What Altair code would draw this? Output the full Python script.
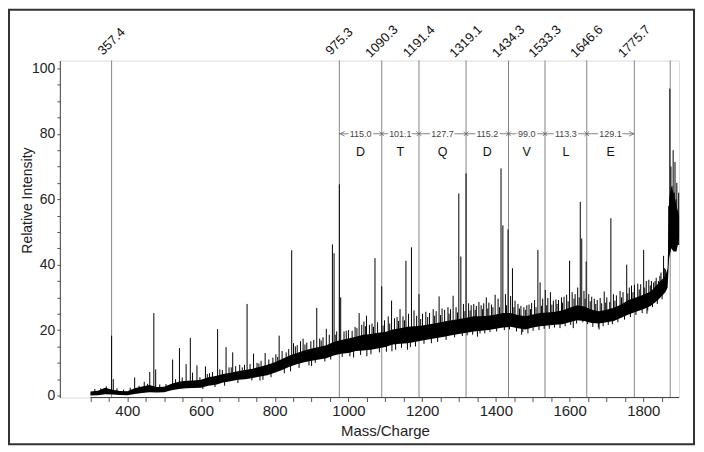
import altair as alt
import pandas as pd

# ---------------- data ----------------
band_mz = [300, 320, 340, 360, 380, 400, 420, 440, 460, 480,
           500, 520, 540, 560, 580, 600, 620, 640, 660, 680,
           700, 720, 740, 760, 780, 800, 820, 840, 860, 880,
           900, 920, 940, 960, 980, 1000, 1020, 1040, 1060, 1080,
           1100, 1120, 1140, 1160, 1180, 1200, 1220, 1240, 1260, 1280,
           1300, 1320, 1340, 1360, 1380, 1400, 1420, 1440, 1460, 1480,
           1500, 1520, 1540, 1560, 1580, 1600, 1620, 1640, 1660, 1680,
           1700, 1720, 1740, 1760, 1780, 1800, 1820, 1840, 1860,
           1866, 1870, 1876, 1882, 1890, 1897]
band_lo = [0.0, 0.1, 0.4, 0.3, 0.2, 0.1, 0.5, 0.8, 1.0, 0.9,
           1.0, 1.6, 2.0, 2.2, 2.3, 2.4, 3.0, 3.3, 4.0, 4.4,
           4.8, 5.0, 5.4, 5.8, 6.2, 7.0, 7.8, 8.8, 9.6, 10.2,
           10.6, 11.0, 11.4, 12.2, 12.8, 13.0, 13.6, 13.8, 14.0, 14.4,
           14.8, 15.6, 15.8, 16.0, 16.4, 16.8, 17.2, 17.6, 18.0, 18.4,
           18.8, 19.2, 19.6, 19.8, 20.0, 20.4, 20.8, 21.0, 20.6, 20.2,
           20.8, 21.2, 21.4, 21.6, 21.8, 22.4, 23.0, 22.8, 22.2, 22.0,
           22.4, 22.8, 23.8, 24.8, 25.6, 26.4, 27.4, 29.2, 31.6,
           33.0, 42.0, 45.0, 44.0, 44.0, 48.0]
band_hi = [1.2, 1.5, 2.4, 1.8, 1.4, 1.3, 2.2, 2.8, 3.2, 2.6,
           2.7, 3.6, 4.2, 4.5, 4.6, 4.8, 5.6, 6.0, 6.6, 7.0,
           7.4, 7.8, 8.2, 8.8, 9.4, 10.2, 11.2, 12.2, 13.0, 13.8,
           14.4, 14.8, 15.4, 16.4, 17.0, 17.4, 18.0, 18.6, 18.8, 19.2,
           19.4, 20.2, 20.6, 21.0, 21.2, 21.4, 21.8, 22.2, 22.6, 23.0,
           23.4, 23.8, 24.2, 24.2, 24.4, 24.8, 25.2, 25.2, 24.6, 24.2,
           24.8, 25.2, 25.4, 25.6, 26.0, 26.8, 27.6, 27.2, 26.2, 25.8,
           26.2, 26.8, 27.8, 29.2, 30.0, 30.8, 31.8, 34.2, 36.6,
           39.0, 60.0, 64.0, 62.0, 58.0, 55.0]

spike_mz = [312, 328, 343, 357.4, 362, 372, 390, 408, 420, 432,
            446, 455, 461, 472, 477, 488, 505, 512, 523, 531,
            541.5, 549, 559.6, 571, 577, 589, 597, 612, 623, 631,
            645, 651, 658, 668, 676, 686, 694, 705, 712, 725,
            733, 742.6, 752, 763, 774, 784, 795, 803, 812, 820,
            831, 838, 846, 851, 861, 870, 877, 887, 898, 906,
            914, 922, 931, 940, 948, 956.5, 961, 968, 975.3, 979,
            988, 1000, 1010, 1018, 1029, 1036, 1042, 1049, 1057, 1064,
            1072, 1079, 1090.3, 1098, 1108, 1117, 1125, 1132, 1140, 1148,
            1156, 1163, 1171, 1178, 1185, 1191.4, 1201, 1210, 1220, 1230,
            1238, 1246, 1254, 1261, 1270, 1277, 1284, 1292, 1299.5, 1305,
            1312, 1319.1, 1326, 1333, 1340, 1347, 1354, 1360, 1367, 1374,
            1381, 1388, 1398, 1406, 1414, 1419, 1426, 1433, 1440, 1445,
            1452, 1460, 1468, 1476, 1484, 1490, 1497, 1505, 1514, 1520,
            1527, 1534, 1541, 1548, 1556, 1563, 1570, 1578, 1585, 1592,
            1600, 1607, 1615, 1622, 1629, 1633, 1639, 1645, 1652, 1660,
            1667, 1675, 1683, 1694, 1701, 1712, 1719, 1727, 1737, 1745,
            1755, 1762, 1768, 1776, 1785, 1793, 1801, 1808, 1815, 1822,
            1828, 1835, 1841, 1848, 1855, 1860, 1869, 1872, 1875, 1878,
            1881, 1884, 1886, 1889, 1891, 1894, 1896, 1118, 1160, 1350,
            1470, 1610, 1680, 1810, 1050, 900, 760]
spike_top = [2.0, 2.2, 2.8, 18.3, 5.0, 2.2, 1.8, 2.4, 5.5, 3.0,
             4.2, 3.6, 7.2, 25.2, 8.0, 3.4, 3.5, 3.2, 11.0, 5.0,
             14.5, 5.5, 9.6, 17.6, 7.0, 9.2, 5.6, 8.9, 6.8, 7.2,
             20.3, 8.0, 7.8, 14.8, 8.6, 13.2, 9.0, 9.4, 8.6, 28.0,
             9.6, 12.8, 10.0, 10.6, 13.0, 11.0, 11.6, 12.6, 18.3, 13.6,
             13.2, 14.2, 44.4, 16.0, 15.4, 16.6, 17.4, 16.2, 16.6, 17.0,
             26.8, 17.4, 17.8, 20.4, 18.6, 46.2, 43.5, 19.6, 64.5, 30.0,
             19.6, 20.0, 19.8, 21.0, 25.2, 21.6, 22.6, 24.4, 21.6, 22.0,
             42.0, 22.4, 33.4, 23.0, 24.2, 29.0, 23.6, 24.0, 26.4, 24.2,
             41.2, 25.0, 45.3, 26.0, 24.4, 31.0, 25.0, 25.6, 25.2, 26.4,
             25.8, 30.3, 26.6, 26.2, 27.0, 26.4, 30.5, 27.0, 61.8, 42.5,
             28.0, 67.9, 28.2, 27.6, 28.0, 27.4, 28.6, 27.6, 28.2, 30.0,
             28.4, 27.8, 30.8, 29.6, 69.4, 52.0, 31.0, 50.8, 30.4, 38.9,
             29.0, 28.0, 27.4, 27.0, 27.6, 27.8, 28.3, 29.2, 44.5, 34.6,
             29.6, 32.3, 29.8, 31.6, 29.0, 29.4, 29.2, 30.0, 30.2, 30.8,
             41.2, 31.6, 31.0, 33.0, 59.2, 48.0, 32.0, 41.0, 31.0, 30.2,
             29.6, 29.2, 29.8, 31.8, 30.0, 54.2, 31.0, 30.6, 32.0, 31.6,
             40.0, 33.0, 33.6, 33.8, 34.2, 34.0, 44.5, 35.0, 35.4, 35.0,
             34.5, 36.0, 35.0, 37.6, 42.7, 38.6, 58.0, 93.8, 70.0, 64.0,
             75.0, 62.0, 71.4, 60.0, 65.0, 52.0, 62.0, 13.5, 14.0, 18.0,
             18.6, 20.6, 20.2, 25.0, 12.0, 9.0, 4.6]
spike_base = [0.6, 0.8, 1.0, 1.0, 1.0, 0.8, 0.6, 0.8, 1.2, 1.4,
              1.8, 1.8, 2.0, 2.0, 2.0, 1.8, 1.8, 2.0, 2.6, 3.0,
              3.0, 3.0, 3.2, 3.4, 3.4, 3.4, 3.6, 4.0, 4.2, 4.6,
              4.6, 5.0, 5.2, 5.4, 5.6, 5.8, 6.0, 6.2, 6.2, 6.4,
              6.8, 7.0, 7.0, 7.4, 7.8, 8.2, 8.6, 9.0, 9.6, 9.8,
              10.4, 10.6, 10.8, 11.0, 11.4, 12.0, 12.0, 12.4, 12.6, 13.0,
              13.2, 13.4, 13.6, 14.0, 14.4, 14.6, 14.8, 15.0, 15.0, 15.0,
              15.2, 15.2, 15.6, 15.8, 16.0, 16.2, 16.2, 16.4, 16.4, 16.6,
              16.8, 16.8, 17.0, 17.0, 17.2, 17.6, 18.0, 18.2, 18.2, 18.4,
              18.4, 18.6, 18.8, 18.8, 19.0, 19.0, 19.2, 19.4, 19.6, 19.8,
              20.0, 20.0, 20.2, 20.4, 20.6, 20.8, 21.0, 21.0, 21.2, 21.2,
              21.4, 21.6, 21.8, 22.0, 22.0, 22.0, 22.2, 22.2, 22.2, 22.2,
              22.4, 22.4, 22.6, 22.8, 23.0, 23.0, 23.0, 23.0, 23.0, 23.0,
              22.8, 22.6, 22.4, 22.2, 22.2, 22.4, 22.6, 22.8, 23.0, 23.0,
              23.2, 23.4, 23.4, 23.6, 23.6, 23.8, 23.8, 24.0, 24.2, 24.4,
              24.6, 24.8, 25.0, 25.0, 25.0, 25.0, 25.0, 24.8, 24.6, 24.2,
              24.0, 24.0, 24.0, 24.2, 24.4, 24.6, 24.8, 25.0, 25.6, 26.0,
              26.6, 27.0, 27.4, 27.8, 28.0, 28.4, 28.6, 29.0, 29.4, 29.8,
              30.0, 31.0, 31.6, 32.6, 33.6, 34.0, 45.0, 46.0, 46.0, 46.0,
              46.0, 46.0, 46.0, 46.0, 46.0, 46.0, 46.0, 17.0, 18.0, 21.0,
              21.8, 24.0, 23.6, 28.6, 16.0, 12.0, 6.4]

# small noise excursions along the trace (up and down)
noise_mz = [605, 617, 638, 664, 682, 700, 718, 738, 757, 768,
            790, 808, 826, 843, 856, 866, 882, 893, 910, 926,
            936, 952, 964, 983, 994, 1004, 1014, 1023, 1033, 1046,
            1061, 1068, 1084, 1094, 1103, 1112, 1128, 1136, 1144, 1152,
            1168, 1182, 1196, 1205, 1215, 1225, 1234, 1242, 1250, 1265,
            1273, 1288, 1296, 1309, 1316, 1322, 1330, 1337, 1344, 1357,
            1364, 1370, 1378, 1384, 1392, 1402, 1410, 1423, 1429, 1437,
            1449, 1456, 1464, 1473, 1480, 1487, 1494, 1501, 1509, 1517,
            1524, 1531, 1538, 1545, 1552, 1559, 1566, 1574, 1581, 1588,
            1596, 1603, 1612, 1619, 1626, 1636, 1642, 1649, 1656, 1663,
            1671, 1678, 1687, 1691, 1698, 1705, 1709, 1716, 1723, 1731,
            1741, 1749, 1758, 1765, 1772, 1780, 1789, 1797, 1804, 1812,
            1819, 1825, 1832, 1838, 1845, 1851, 1857]
noise_tip = [2.0, 6.6, 2.6, 3.0, 8.6, 3.8, 9.4, 4.6, 9.8, 4.8,
             5.6, 11.8, 6.8, 7.4, 15.0, 8.4, 15.6, 9.2, 10.0, 16.8,
             10.4, 11.0, 18.6, 11.8, 19.8, 12.0, 11.6, 20.6, 12.4, 21.2,
             12.6, 21.0, 13.2, 21.4, 13.4, 22.0, 14.0, 22.8, 14.6, 23.0,
             14.8, 15.0, 23.4, 15.8, 24.0, 16.0, 24.4, 16.4, 24.6, 17.0,
             25.0, 17.8, 25.4, 18.2, 25.8, 18.4, 26.0, 18.6, 26.2, 19.0,
             26.4, 19.0, 26.6, 19.4, 27.0, 19.6, 27.0, 20.0, 27.6, 20.2,
             27.0, 19.6, 26.6, 19.4, 26.2, 19.0, 26.4, 19.8, 27.0, 20.0,
             27.4, 20.4, 27.6, 20.4, 27.8, 20.8, 28.0, 20.6, 28.4, 21.2,
             28.8, 21.6, 29.6, 22.0, 30.0, 22.4, 29.6, 21.8, 28.8, 21.0,
             28.0, 20.8, 28.2, 21.2, 28.4, 21.6, 28.6, 21.8, 29.0, 22.4,
             30.0, 23.2, 31.2, 24.0, 31.6, 24.6, 32.4, 25.2, 33.0, 26.0,
             33.6, 27.0, 35.0, 28.0, 36.6, 29.4, 39.0]
noise_base = [3.6, 4.4, 4.8, 5.4, 5.8, 6.0, 6.4, 6.8, 7.2, 7.6,
              8.0, 8.6, 9.6, 10.4, 11.0, 11.6, 12.0, 12.4, 12.8, 13.2,
              13.6, 14.2, 14.6, 15.0, 15.2, 15.4, 15.6, 15.8, 16.2, 16.4,
              16.6, 16.6, 16.8, 17.0, 17.2, 17.4, 18.0, 18.2, 18.4, 18.4,
              18.8, 19.0, 19.2, 19.2, 19.4, 19.6, 19.8, 20.0, 20.0, 20.4,
              20.6, 21.0, 21.0, 21.4, 21.4, 21.6, 21.8, 22.0, 22.0, 22.2,
              22.2, 22.2, 22.4, 22.4, 22.6, 22.8, 23.0, 23.0, 23.0, 23.0,
              22.8, 22.8, 22.6, 22.2, 22.2, 22.4, 22.6, 22.8, 23.0, 23.0,
              23.2, 23.4, 23.4, 23.6, 23.6, 23.8, 23.8, 24.0, 24.2, 24.4,
              24.6, 24.8, 25.0, 25.0, 25.0, 25.0, 24.8, 24.6, 24.4, 24.0,
              24.0, 24.0, 24.0, 24.2, 24.4, 24.6, 24.6, 24.8, 25.0, 25.2,
              25.8, 26.2, 26.8, 27.2, 27.6, 27.8, 28.2, 28.6, 28.8, 29.2,
              29.6, 30.0, 30.6, 31.2, 32.0, 33.0, 33.8]
assert len(spike_mz) == len(spike_top) == len(spike_base)
assert len(noise_mz) == len(noise_tip) == len(noise_base)
assert len(band_mz) == len(band_lo) == len(band_hi)

marker_mz = [357.4, 975.3, 1090.3, 1191.4, 1319.1, 1434.3, 1533.3, 1646.6, 1775.7]
marker_label = ["357.4", "975.3", "1090.3", "1191.4", "1319.1", "1434.3", "1533.3", "1646.6", "1775.7"]
extra_line_mz = [1873]

gap_start = [975.3, 1090.3, 1191.4, 1319.1, 1434.3, 1533.3, 1646.6]
gap_end = [1090.3, 1191.4, 1319.1, 1434.3, 1533.3, 1646.6, 1775.7]
gap_label = ["115.0", "101.1", "127.7", "115.2", "99.0", "113.3", "129.1"]
residue = ["D", "T", "Q", "D", "V", "L", "E"]
junction_mz = [1090.3, 1191.4, 1319.1, 1434.3, 1533.3, 1646.6]

x_ticks = list(range(300, 1851, 50))
y_ticks = list(range(0, 101, 5))

# ---------------- frames ----------------
band_df = pd.DataFrame({"mz": band_mz, "lo": band_lo, "hi": band_hi})
spike_df = pd.DataFrame({"mz": spike_mz + noise_mz,
                         "top": spike_top + noise_tip,
                         "base": spike_base + noise_base})
line_df = pd.DataFrame({"mz": marker_mz + extra_line_mz})
label_df = pd.DataFrame({"mz": marker_mz, "label": marker_label})
gap_df = pd.DataFrame({"start": gap_start, "end": gap_end, "label": gap_label, "res": residue})
gap_df["mid"] = (gap_df["start"] + gap_df["end"]) / 2
junc_df = pd.DataFrame({"mz": junction_mz})
left_df = pd.DataFrame({"mz": [gap_start[0]]})
right_df = pd.DataFrame({"mz": [gap_end[-1]]})
axis_df = pd.DataFrame({"a": [300], "b": [1897]})
one_df = pd.DataFrame({"k": [0]})

FONT = "Liberation Sans"
W, H = 621, 338
xs = alt.Scale(domain=[217, 1897], nice=False, zero=False)
ys = alt.Scale(domain=[-0.6, 102.4], nice=False, zero=False)

AX_X = alt.Axis(
    values=x_ticks, format="d",
    labelExpr="datum.value % 200 == 0 ? datum.label : ''",
    domain=False, grid=False, tickSize=4, tickColor="#555555",
    labelFont=FONT, labelFontSize=15, labelColor="#222222", labelPadding=2,
    labelOverlap=False, labelFlush=False,
    title="Mass/Charge", titleFont=FONT, titleFontSize=15, titleFontWeight="normal",
    titleColor="#222222", titleX=326, titleY=33, titleAlign="center", titleBaseline="middle")
AX_Y = alt.Axis(
    values=y_ticks, format="d",
    labelExpr="datum.value % 20 == 0 ? datum.label : ''",
    grid=False, domainColor="#444444", tickColor="#555555", tickSize=3,
    labelFont=FONT, labelFontSize=14, labelColor="#222222", labelPadding=2,
    labelOverlap=False,
    title="Relative Intensity", titleFont=FONT, titleFontSize=14, titleFontWeight="normal",
    titleColor="#222222", titleX=-32, titleY=140, titleAngle=270,
    titleAlign="center", titleBaseline="middle")


def X(field):
    return alt.X(field, type="quantitative", scale=xs, axis=AX_X)


def Y(field):
    return alt.Y(field, type="quantitative", scale=ys, axis=AX_Y)


def YD(v):
    return alt.YDatum(v, scale=ys, axis=AX_Y)


frame = alt.Chart(one_df).mark_rect(fillOpacity=0, stroke="#333333", strokeWidth=2).encode(
    x=alt.value(-51), x2=alt.value(636), y=alt.value(-51), y2=alt.value(385))

vlines = alt.Chart(line_df).mark_rule(color="#858585", strokeWidth=1).encode(
    x=X("mz"), y=alt.value(0), y2=alt.value(H))

band = alt.Chart(band_df).mark_area(color="#000000").encode(
    x=X("mz"), y=Y("lo"), y2="hi:Q")

spikes = alt.Chart(spike_df).mark_rule(color="#000000", strokeWidth=1).encode(
    x=X("mz"), y=Y("top"), y2="base:Q")

xaxis_line = alt.Chart(axis_df).mark_rule(color="#444444", strokeWidth=1).encode(
    x=X("a"), x2="b", y=alt.value(H))

peak_labels = alt.Chart(label_df).mark_text(
    angle=315, align="center", baseline="middle", font=FONT, fontSize=13, color="#111111").encode(
    x=X("mz"), y=alt.value(-19), text="label:N")

gap_rules = alt.Chart(gap_df).mark_rule(color="#666666", strokeWidth=0.8).encode(
    x=X("start"), x2="end", y=YD(80))

gap_halo = alt.Chart(gap_df).mark_text(
    font=FONT, fontSize=9, color="white", stroke="white", strokeWidth=4).encode(
    x=X("mid"), y=YD(80), text="label:N")

gap_text = alt.Chart(gap_df).mark_text(font=FONT, fontSize=9, color="#444444").encode(
    x=X("mid"), y=YD(80), text="label:N")

res_text = alt.Chart(gap_df).mark_text(font=FONT, fontSize=12.5, color="#111111").encode(
    x=X("mid"), y=YD(74.5), text="res:N")

junc = alt.Chart(junc_df).mark_point(
    shape="M-1,-1L1,1M-1,1L1,-1", size=22, color="#555555", strokeWidth=1, filled=False).encode(
    x=X("mz"), y=YD(80))

left_arrow = alt.Chart(left_df).mark_point(
    shape="M1,-1L-1,0L1,1", size=22, color="#555555", strokeWidth=1, filled=False, xOffset=3).encode(
    x=X("mz"), y=YD(80))

right_arrow = alt.Chart(right_df).mark_point(
    shape="M-1,-1L1,0L-1,1", size=22, color="#555555", strokeWidth=1, filled=False, xOffset=-3).encode(
    x=X("mz"), y=YD(80))

chart = alt.layer(
    frame, vlines, band, spikes, xaxis_line, peak_labels,
    gap_rules, gap_halo, gap_text, res_text, junc, left_arrow, right_arrow
).properties(
    width=W, height=H,
    autosize=alt.AutoSizeParams(type="none"),
    padding={"left": 52, "top": 52, "right": 17, "bottom": 50},
).configure_view(stroke=None).configure(font=FONT)

chart.save("out.html", embed_options={"renderer": "svg", "actions": False})
